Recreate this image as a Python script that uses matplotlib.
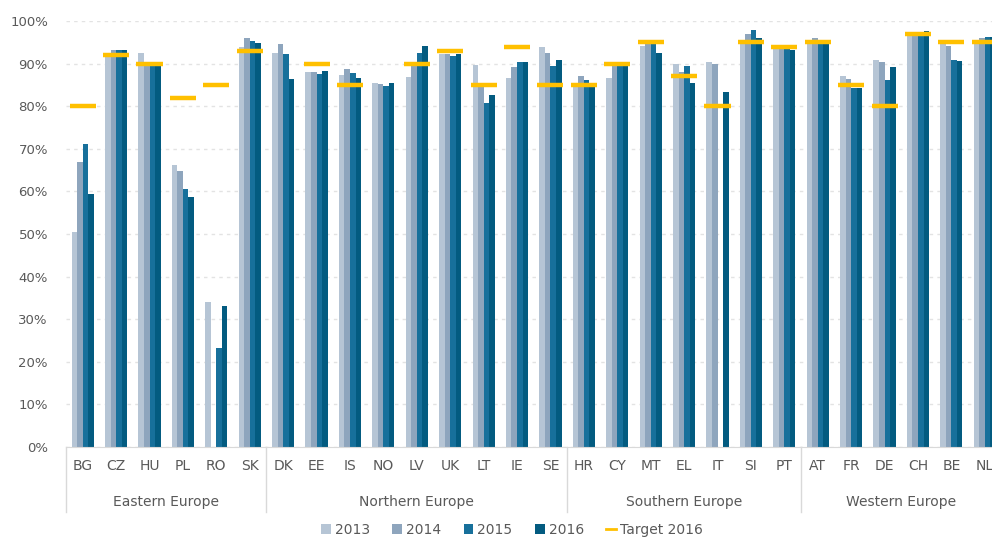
import numpy as np
import matplotlib.pyplot as plt
from matplotlib.patches import Patch
from matplotlib.lines import Line2D

nan = np.nan

countries = ['BG', 'CZ', 'HU', 'PL', 'RO', 'SK',
             'DK', 'EE', 'IS', 'NO', 'LV', 'UK', 'LT', 'IE', 'SE',
             'HR', 'CY', 'MT', 'EL', 'IT', 'SI', 'PT',
             'AT', 'FR', 'DE', 'CH', 'BE', 'NL']
regions = ['Eastern Europe', 'Northern Europe', 'Southern Europe', 'Western Europe']
region_sizes = [6, 9, 7, 6]

years = ['2013', '2014', '2015', '2016']
v2013 = [50.5, 92.2, 92.4, 66.2, 34.0, 93.9,
         92.6, 88.1, 87.4, 85.4, 86.8, 92.2, 89.7, 86.6, 94.0,
         84.5, 86.7, 94.2, 89.8, 90.3, 95.2, 94.2,
         95.5, 87.0, 90.8, 96.5, 95.0, 95.3]
v2014 = [66.8, 93.1, 90.4, 64.8, nan, 95.9,
         94.5, 88.0, 88.7, 85.2, 89.5, 92.2, 85.5, 89.3, 92.6,
         87.2, 89.4, 94.5, 88.0, 90.0, 96.9, 93.8,
         96.0, 86.4, 90.4, 96.8, 94.1, 96.0]
v2015 = [71.2, 93.3, 89.5, 60.5, 23.3, 95.3,
         92.3, 87.5, 87.7, 84.8, 92.6, 91.8, 80.7, 90.4, 89.5,
         86.1, 89.5, 94.6, 89.5, nan, 98.0, 93.6,
         95.6, 84.3, 86.1, 97.0, 90.8, 96.2]
v2016 = [59.5, 93.3, 89.5, 58.8, 33.0, 94.9,
         86.3, 88.3, 86.6, 85.4, 94.1, 92.2, 82.6, 90.4, 90.8,
         84.8, 89.5, 92.6, 85.5, 83.4, 96.1, 93.1,
         95.2, 84.3, 89.3, 97.7, 90.5, 96.2]
target_2016 = [80, 92, 90, 82, 85, 93,
               nan, 90, 85, nan, 90, 93, 85, 94, 85,
               85, 90, 95, 87, 80, 95, 94,
               95, 85, 80, 97, 95, 95]

series = [v2013, v2014, v2015, v2016]
colors = ['#b6c5d5', '#8ea5bd', '#17709b', '#035b80']
target_color = '#ffc000'
text_color = '#595959'
line_color = '#d9d9d9'

plt.rcParams['font.family'] = ['DejaVu Sans']

fig = plt.figure(figsize=(9.92, 5.39), dpi=100)
ax = fig.add_axes([66 / 992, 92 / 539, (1001.5 - 66) / 992, 426 / 539])

x = np.arange(len(countries))
w = 0.166
for k, vals in enumerate(series):
    ax.bar(x + (k - 1.5) * w, vals, width=w, color=colors[k], linewidth=0, zorder=2)

ax.hlines(target_2016, x - 0.39, x + 0.39, colors=target_color, linewidth=3.2, zorder=3)

ax.set_xlim(-0.5, len(countries) - 0.5)
ax.set_ylim(0, 100)
ax.set_yticks(range(0, 101, 10))
ax.set_yticklabels([f'{v}%' for v in range(0, 101, 10)])
ax.yaxis.grid(True, color='#e3e3e3', linestyle=(0, (2.5, 3)), linewidth=1, zorder=0)
ax.set_axisbelow(True)

ax.set_xticks(x)
ax.set_xticklabels(countries)
ax.tick_params(axis='x', length=0, pad=9, labelsize=10, colors=text_color)
ax.tick_params(axis='y', length=0, pad=13, labelsize=9.5, colors=text_color)

for side in ['top', 'right', 'left']:
    ax.spines[side].set_visible(False)
ax.spines['bottom'].set_color(line_color)

# region separators and names under the country labels
trans = ax.get_xaxis_transform()
start = 0
bounds = [-0.5]
for name, n in zip(regions, region_sizes):
    mid = start + (n - 1) / 2
    ax.text(mid, -0.129, name, transform=trans, ha='center', va='center',
            fontsize=10, color=text_color)
    start += n
    bounds.append(start - 0.5)
for b in bounds:
    ax.plot([b, b], [0, -0.153], transform=trans, color=line_color,
            linewidth=1, clip_on=False)

handles = [Patch(facecolor=c, edgecolor='none', label=y) for c, y in zip(colors, years)]
handles.append(Line2D([0], [0], color=target_color, linewidth=2, label='Target 2016'))
fig.legend(handles=handles, loc='center', bbox_to_anchor=(512 / 992, 1 - 530 / 539),
           ncol=5, frameon=False, fontsize=10, handlelength=0.7, handleheight=0.7,
           handletextpad=0.3, columnspacing=1.6, labelcolor=text_color)

fig.savefig('out.png', dpi=100)
